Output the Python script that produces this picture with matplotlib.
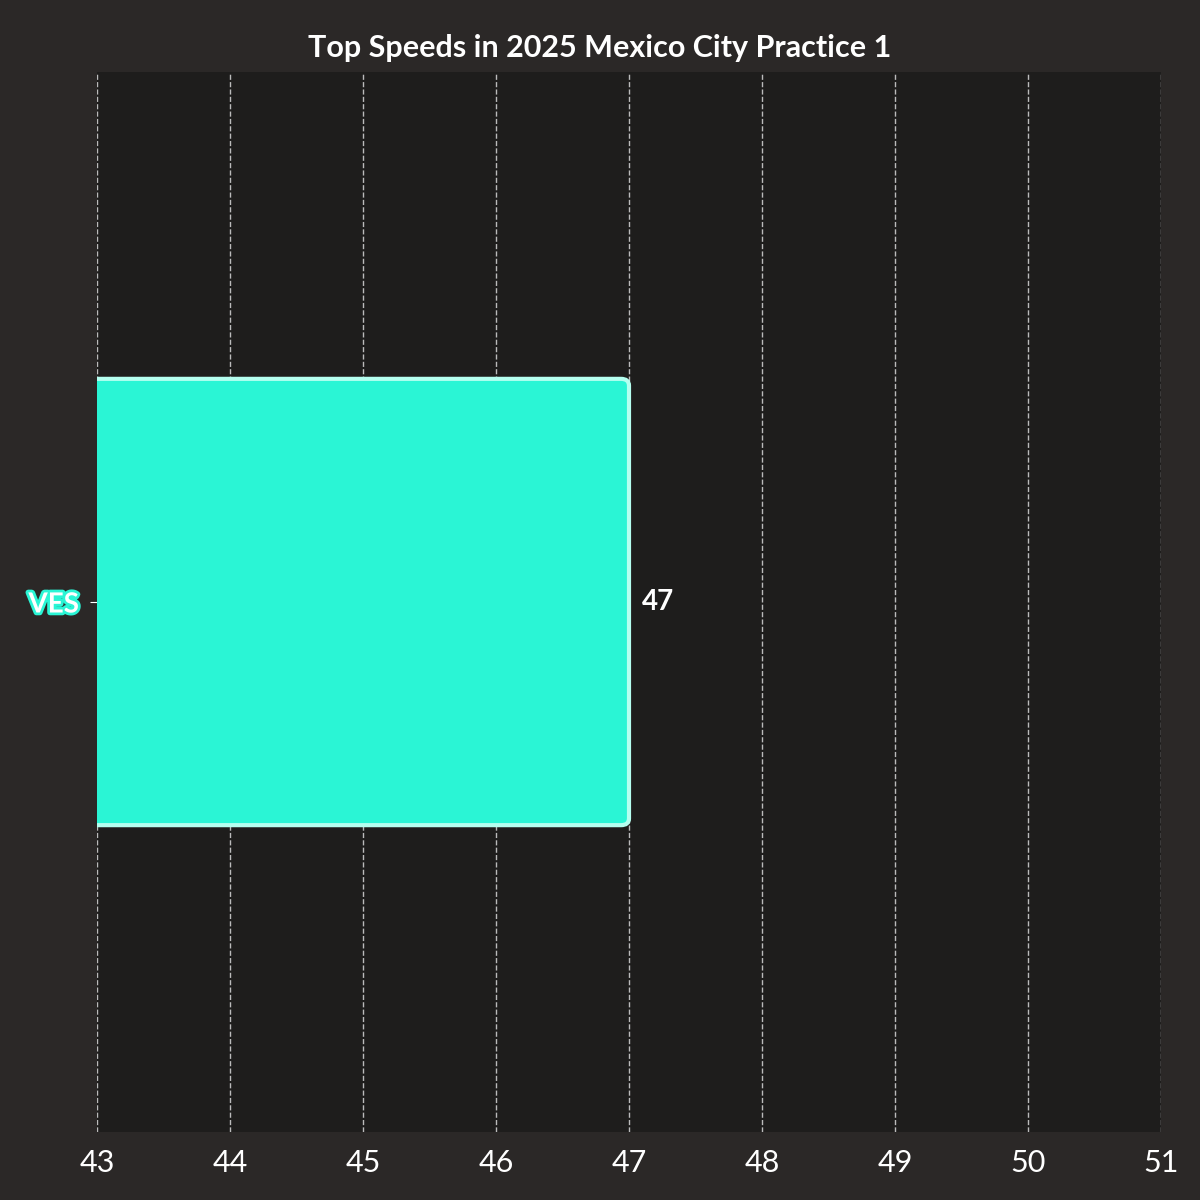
import matplotlib.pyplot as plt
import matplotlib.patheffects as pe
from matplotlib.patches import FancyBboxPatch

drivers = ['VES']
speeds = [47]
colors = ['#2af5d5']
x_ticks = [43, 44, 45, 46, 47, 48, 49, 50, 51]

fig = plt.figure(figsize=(12, 12), dpi=100, facecolor='#2b2827')
ax = fig.add_axes([97/1200, 68/1200, 1064/1200, 1060/1200])
ax.set_facecolor('#1e1d1c')

bars = ax.barh(drivers, [s - x_ticks[0] for s in speeds], left=x_ticks[0],
               height=0.8, color='none', edgecolor='none')
for bar, c in zip(bars, colors):
    x, y = bar.get_x(), bar.get_y()
    w, h = bar.get_width(), bar.get_height()
    ax.add_patch(FancyBboxPatch((x - 0.2, y), w + 0.2, h,
                                boxstyle='round,pad=0,rounding_size=0.06',
                                mutation_aspect=0.2, facecolor=c,
                                edgecolor='#b5fff0', linewidth=3, zorder=3))

for i, s in enumerate(speeds):
    ax.text(s + 0.1, i, f'{s}', color='white', fontsize=20, fontweight='bold',
            va='center', ha='left', family='Lato', zorder=4)

ax.set_xlim(x_ticks[0], x_ticks[-1])
ax.set_ylim(-0.95, 0.95)
ax.set_xticks(x_ticks)
ax.xaxis.grid(True, linestyle='--', color='#bbbbbb', linewidth=1, zorder=0)
ax.set_axisbelow(True)
for sp in ax.spines.values():
    sp.set_visible(False)
ax.tick_params(axis='x', length=0, labelsize=22, labelcolor='white', pad=12)
ax.tick_params(axis='y', length=5, color='white', labelsize=20, pad=8)
for lbl in ax.get_xticklabels():
    lbl.set_family('Lato')
for lbl, c in zip(ax.get_yticklabels(), colors):
    lbl.set_color('white')
    lbl.set_family('Lato')
    lbl.set_fontweight('bold')
    lbl.set_path_effects([pe.withStroke(linewidth=4, foreground=c)])

fig.suptitle('Top Speeds in 2025 Mexico City Practice 1', color='white',
             fontsize=22, fontweight='bold', family='Lato', y=0.972)

fig.savefig('out.png', facecolor=fig.get_facecolor())
